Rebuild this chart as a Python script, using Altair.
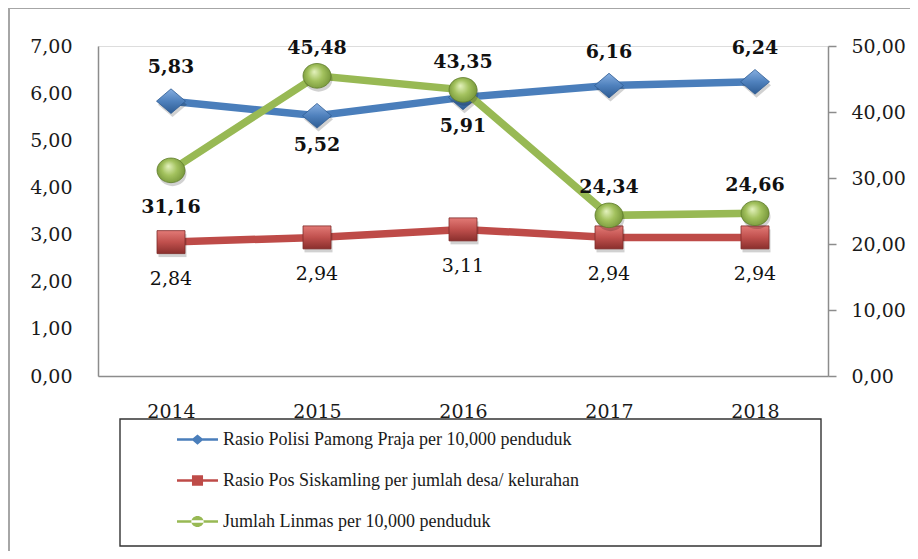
import altair as alt
import pandas as pd

# ---------------- data ----------------
years = ["2014", "2015", "2016", "2017", "2018"]
series_names = [
    "Rasio Polisi Pamong Praja per 10,000 penduduk",
    "Rasio Pos Siskamling per jumlah desa/ kelurahan",
    "Jumlah Linmas per 10,000 penduduk",
]
polisi = [5.83, 5.52, 5.91, 6.16, 6.24]
siskamling = [2.84, 2.94, 3.11, 2.94, 2.94]
linmas = [31.16, 45.48, 43.35, 24.34, 24.66]

polisi_side = ["above", "below", "below", "above", "above"]
siskamling_side = ["below", "below", "below", "below", "below"]
linmas_side = ["below", "above", "above", "above", "above"]

left_ticks = [0, 1, 2, 3, 4, 5, 6, 7]
right_ticks = [0, 10, 20, 30, 40, 50]

colors = ["#4A7EBB", "#BE4B48", "#98B954"]

# ---------------- tables ----------------
def table(name, vals, sides):
    return pd.DataFrame({"series": name, "year": years, "value": vals, "side": sides})

df_left = pd.concat([
    table(series_names[0], polisi, polisi_side),
    table(series_names[1], siskamling, siskamling_side),
])
df_right = table(series_names[2], linmas, linmas_side)

SERIF = "DejaVu Serif"
FMT = "replace(format(datum.value, '.2f'), '.', ',')"
AXIS_GREY = "#8C8C8C"

x_enc = alt.X(
    "year:O",
    scale=alt.Scale(type="point", padding=0.5),
    axis=alt.Axis(title=None, labelAngle=0, domainColor=AXIS_GREY, domainWidth=1.5,
                  ticks=False, labelPadding=26, labelFont=SERIF, labelFontSize=19,
                  labelColor="#1a1a1a", grid=False),
)
yL = alt.Y(
    "value:Q",
    scale=alt.Scale(domain=[0, 7], nice=False, zero=True),
    axis=alt.Axis(title=None, values=left_ticks, labelExpr=FMT, domainColor=AXIS_GREY,
                  domainWidth=1.5, ticks=False, labelPadding=26, labelFont=SERIF,
                  labelFontSize=19, labelColor="#1a1a1a", grid=False),
)
yR = alt.Y(
    "value:Q",
    scale=alt.Scale(domain=[0, 50], nice=False, zero=True),
    axis=alt.Axis(title=None, orient="right", values=right_ticks, labelExpr=FMT,
                  domainColor=AXIS_GREY, domainWidth=1.5, tickColor=AXIS_GREY,
                  tickSize=8, tickWidth=1.5, labelPadding=15, labelFont=SERIF,
                  labelFontSize=19, labelColor="#1a1a1a", grid=False),
)

color_lines = alt.Color("series:N", scale=alt.Scale(domain=series_names, range=colors),
                        legend=None)

# legend symbol paths (line + marker)
LEG_DIAMOND = "M-1,-0.06L1,-0.06L1,0.06L-1,0.06Z M0,-0.25L0.3,0L0,0.25L-0.3,0Z"
LEG_SQUARE = "M-1,-0.06L1,-0.06L1,0.06L-1,0.06Z M-0.27,-0.26L0.27,-0.26L0.27,0.26L-0.27,0.26Z"
LEG_CIRCLE = ("M-1,-0.06L1,-0.06L1,0.06L-1,0.06Z M-0.3,0A0.3,0.27 0 1,0 0.3,0"
              "A0.3,0.27 0 1,0 -0.3,0Z")

legend_def = alt.Legend(
    title=None, orient="none", legendX=79, legendY=373, direction="vertical",
    labelFont="Liberation Serif", labelFontSize=18, labelColor="#1a1a1a",
    labelOffset=5, labelLimit=700, symbolSize=1681, rowPadding=11, padding=0,
    symbolOpacity=1, symbolStrokeWidth=0,
)
fill_leg = alt.Fill("series:N", scale=alt.Scale(domain=series_names, range=colors),
                    legend=legend_def)
shape_leg = alt.Shape("series:N",
                      scale=alt.Scale(domain=series_names,
                                      range=[LEG_DIAMOND, LEG_SQUARE, LEG_CIRCLE]),
                      legend=legend_def)

# marker shapes
DIAMOND = "M0,-0.85L1,0L0,0.85L-1,0Z"
SQUARE = "M-1,-0.82L1,-0.82L1,0.82L-1,0.82Z"
ELLIPSE = "M-1,0A1,0.88 0 1,0 1,0A1,0.88 0 1,0 -1,0Z"

def lin_grad(c0, c1, c2):
    return {"gradient": "linear", "x1": 0, "y1": 0, "x2": 0, "y2": 1,
            "stops": [{"offset": 0, "color": c0}, {"offset": 0.5, "color": c1},
                      {"offset": 1, "color": c2}]}

grad_blue = lin_grad("#86AEE0", "#4F81BD", "#2E5C93")
grad_red = lin_grad("#E27A76", "#C0504D", "#8A2F2D")
grad_green = {"gradient": "radial", "x1": 0.4, "y1": 0.35, "r1": 0, "x2": 0.5, "y2": 0.5,
              "r2": 0.6,
              "stops": [{"offset": 0, "color": "#E4F2BE"}, {"offset": 0.45, "color": "#A3C25E"},
                        {"offset": 1, "color": "#6A8A30"}]}

label_calc = "replace(format(datum.value, '.2f'), '.', ',')"

# ---------------- left group ----------------
base_L = alt.Chart(df_left).transform_calculate(lbl=label_calc)

# tiny points under the markers; they feed the legend (fill + shape)
legend_src = base_L.mark_point(filled=True, size=4).encode(
    x=x_enc, y=yL, fill=fill_leg, shape=shape_leg)

lines_L = base_L.mark_line(strokeWidth=7.5).encode(x=x_enc, y=yL, color=color_lines)

def markers(base, name, path, size, grad, stroke, y):
    shadow = base.transform_filter(alt.datum.series == name).mark_point(
        shape=path, size=size, filled=True, fill="#000000", opacity=0.18,
        xOffset=1.5, yOffset=3.5, strokeWidth=0,
    ).encode(x=x_enc, y=y)
    mk = base.transform_filter(alt.datum.series == name).mark_point(
        shape=path, size=size, filled=True, fill=grad, opacity=1, stroke=stroke,
        strokeWidth=0.8,
    ).encode(x=x_enc, y=y)
    return shadow + mk

def labels(base, name, side, dy, weight, y):
    return base.transform_filter(
        (alt.datum.series == name) & (alt.datum.side == side)
    ).mark_text(font=SERIF, fontSize=19, fontWeight=weight, color="#111111",
                dy=dy, baseline="middle").encode(x=x_enc, y=y, text="lbl:N")

mk_blue = markers(base_L, series_names[0], DIAMOND, 841, grad_blue, "#2E5C93", yL)
mk_red = markers(base_L, series_names[1], SQUARE, 784, grad_red, "#7E2B29", yL)

lab_blue_up = labels(base_L, series_names[0], "above", -34, "bold", yL)
lab_blue_dn = labels(base_L, series_names[0], "below", 29, "bold", yL)
lab_red_dn = labels(base_L, series_names[1], "below", 37, "normal", yL)

# decorations: legend frame and outer chart frame
deco = alt.Chart(alt.Data(values=[{}]))
legend_box = deco.mark_rect(fill="transparent", stroke="#333333", strokeWidth=1.4).encode(
    x=alt.value(22), x2=alt.value(723), y=alt.value(373), y2=alt.value(500))
frame_top = deco.mark_rule(stroke="#A6A6A6", strokeWidth=2).encode(
    x=alt.value(-89), x2=alt.value(830), y=alt.value(-38))
frame_left = deco.mark_rule(stroke="#A6A6A6", strokeWidth=2).encode(
    x=alt.value(-89), y=alt.value(-38), y2=alt.value(520))

left = alt.layer(legend_src, lines_L, mk_blue, mk_red, lab_blue_up, lab_blue_dn, lab_red_dn)

# ---------------- right group ----------------
base_R = alt.Chart(df_right).transform_calculate(lbl=label_calc)
line_R = base_R.mark_line(strokeWidth=7.5).encode(x=x_enc, y=yR, color=color_lines)
mk_green = markers(base_R, series_names[2], ELLIPSE, 784, grad_green, "#5E7C2A", yR)
lab_green_up = labels(base_R, series_names[2], "above", -28, "bold", yR)
lab_green_dn = labels(base_R, series_names[2], "below", 37, "bold", yR)

right = alt.layer(line_R, mk_green, lab_green_up, lab_green_dn)

chart = alt.layer(legend_box, frame_top, frame_left, left, right).resolve_scale(
    y="independent"
).properties(
    width=730, height=330,
    padding={"left": 90, "top": 38, "right": 82, "bottom": 175},
    autosize="none",
).configure_view(stroke=None).configure(background="white")

chart.save("out.html", embed_options={"renderer": "svg", "actions": False})
